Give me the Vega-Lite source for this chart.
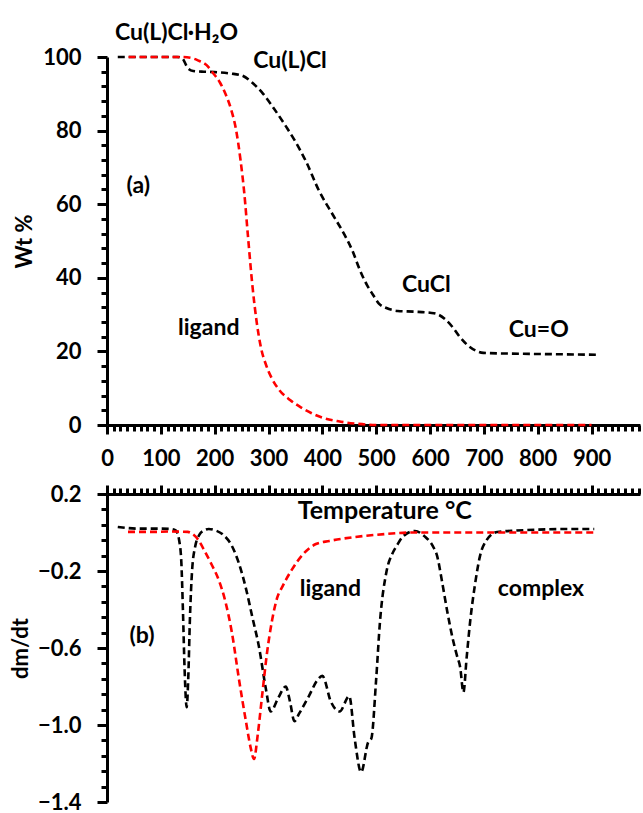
{
  "$schema": "https://vega.github.io/schema/vega-lite/v6.json",
  "background": "white",
  "padding": {"left": 9, "top": 22, "right": 0, "bottom": 0},
  "spacing": 14,
  "config": {
    "view": {"stroke": null},
    "font": "Lato",
    "axis": {
      "domainColor": "black", "domainWidth": 3, "tickColor": "black", "tickWidth": 3, "ticks": true, "tickOpacity": 1,
      "labelFont": "Lato", "labelFontSize": 22, "labelFontWeight": "bold", "labelColor": "black",
      "titleFont": "Lato", "titleFontSize": 22, "titleFontWeight": "bold", "titleColor": "black",
      "grid": false, "labelOverlap": false, "labelFlush": false
    }
  },
  "datasets": {
    "tga": [
      {"s": "complex", "T": 20, "v": 100}, {"s": "complex", "T": 60, "v": 100}, {"s": "complex", "T": 100, "v": 100},
      {"s": "complex", "T": 130, "v": 100}, {"s": "complex", "T": 140, "v": 99.6}, {"s": "complex", "T": 150, "v": 97},
      {"s": "complex", "T": 160, "v": 96.2}, {"s": "complex", "T": 180, "v": 96}, {"s": "complex", "T": 200, "v": 95.9},
      {"s": "complex", "T": 230, "v": 95.5}, {"s": "complex", "T": 250, "v": 95}, {"s": "complex", "T": 270, "v": 93},
      {"s": "complex", "T": 290, "v": 90}, {"s": "complex", "T": 310, "v": 86}, {"s": "complex", "T": 333, "v": 81},
      {"s": "complex", "T": 350, "v": 77}, {"s": "complex", "T": 370, "v": 71.5}, {"s": "complex", "T": 394, "v": 63.6},
      {"s": "complex", "T": 420, "v": 57}, {"s": "complex", "T": 440, "v": 52}, {"s": "complex", "T": 456, "v": 47.3},
      {"s": "complex", "T": 470, "v": 42}, {"s": "complex", "T": 483, "v": 38}, {"s": "complex", "T": 494, "v": 35.4},
      {"s": "complex", "T": 505, "v": 33}, {"s": "complex", "T": 519, "v": 31.8}, {"s": "complex", "T": 540, "v": 31},
      {"s": "complex", "T": 570, "v": 30.8}, {"s": "complex", "T": 600, "v": 30.5}, {"s": "complex", "T": 612, "v": 30.2},
      {"s": "complex", "T": 630, "v": 28.5}, {"s": "complex", "T": 643, "v": 26.4}, {"s": "complex", "T": 655, "v": 24},
      {"s": "complex", "T": 669, "v": 21.8}, {"s": "complex", "T": 685, "v": 20.2}, {"s": "complex", "T": 699, "v": 19.6},
      {"s": "complex", "T": 750, "v": 19.4}, {"s": "complex", "T": 800, "v": 19.3}, {"s": "complex", "T": 850, "v": 19.2},
      {"s": "complex", "T": 908, "v": 19.1},
      {"s": "ligand", "T": 40, "v": 100}, {"s": "ligand", "T": 80, "v": 100}, {"s": "ligand", "T": 120, "v": 100},
      {"s": "ligand", "T": 140, "v": 100}, {"s": "ligand", "T": 160, "v": 99.6}, {"s": "ligand", "T": 170, "v": 99},
      {"s": "ligand", "T": 185, "v": 97.8}, {"s": "ligand", "T": 195, "v": 96}, {"s": "ligand", "T": 210, "v": 93},
      {"s": "ligand", "T": 220, "v": 90}, {"s": "ligand", "T": 230, "v": 86}, {"s": "ligand", "T": 240, "v": 80},
      {"s": "ligand", "T": 248, "v": 72}, {"s": "ligand", "T": 255, "v": 63}, {"s": "ligand", "T": 262, "v": 51},
      {"s": "ligand", "T": 270, "v": 38}, {"s": "ligand", "T": 278, "v": 28}, {"s": "ligand", "T": 286, "v": 21},
      {"s": "ligand", "T": 295, "v": 16.5}, {"s": "ligand", "T": 305, "v": 13}, {"s": "ligand", "T": 320, "v": 9.5},
      {"s": "ligand", "T": 340, "v": 6.8}, {"s": "ligand", "T": 360, "v": 4.8}, {"s": "ligand", "T": 380, "v": 3.2},
      {"s": "ligand", "T": 400, "v": 2}, {"s": "ligand", "T": 430, "v": 1}, {"s": "ligand", "T": 460, "v": 0.4},
      {"s": "ligand", "T": 500, "v": 0}, {"s": "ligand", "T": 600, "v": 0}, {"s": "ligand", "T": 700, "v": 0},
      {"s": "ligand", "T": 800, "v": 0}, {"s": "ligand", "T": 900, "v": 0}
    ],
    "dtg": [
      {"s": "complex", "T": 20, "v": 0.029}, {"s": "complex", "T": 60, "v": 0.02}, {"s": "complex", "T": 100, "v": 0.02},
      {"s": "complex", "T": 120, "v": 0.018}, {"s": "complex", "T": 128, "v": 0.01}, {"s": "complex", "T": 134, "v": -0.04},
      {"s": "complex", "T": 138, "v": -0.15}, {"s": "complex", "T": 141, "v": -0.4}, {"s": "complex", "T": 144, "v": -0.7},
      {"s": "complex", "T": 148, "v": -0.907}, {"s": "complex", "T": 151, "v": -0.75}, {"s": "complex", "T": 154, "v": -0.45},
      {"s": "complex", "T": 158, "v": -0.2}, {"s": "complex", "T": 164, "v": -0.07}, {"s": "complex", "T": 172, "v": -0.01},
      {"s": "complex", "T": 180, "v": 0.01}, {"s": "complex", "T": 189, "v": 0.018}, {"s": "complex", "T": 200, "v": 0.012},
      {"s": "complex", "T": 215, "v": -0.01}, {"s": "complex", "T": 232, "v": -0.07}, {"s": "complex", "T": 245, "v": -0.16},
      {"s": "complex", "T": 258, "v": -0.29}, {"s": "complex", "T": 270, "v": -0.44}, {"s": "complex", "T": 282, "v": -0.59},
      {"s": "complex", "T": 295, "v": -0.81}, {"s": "complex", "T": 304, "v": -0.93}, {"s": "complex", "T": 318, "v": -0.86},
      {"s": "complex", "T": 332, "v": -0.8}, {"s": "complex", "T": 340, "v": -0.88}, {"s": "complex", "T": 348, "v": -0.98},
      {"s": "complex", "T": 357, "v": -0.94}, {"s": "complex", "T": 375, "v": -0.85}, {"s": "complex", "T": 390, "v": -0.77},
      {"s": "complex", "T": 400, "v": -0.745}, {"s": "complex", "T": 416, "v": -0.88}, {"s": "complex", "T": 432, "v": -0.93},
      {"s": "complex", "T": 450, "v": -0.85}, {"s": "complex", "T": 460, "v": -1.07}, {"s": "complex", "T": 472, "v": -1.245},
      {"s": "complex", "T": 485, "v": -1.09}, {"s": "complex", "T": 491, "v": -1.07}, {"s": "complex", "T": 500, "v": -0.76},
      {"s": "complex", "T": 507, "v": -0.465}, {"s": "complex", "T": 519, "v": -0.205}, {"s": "complex", "T": 530, "v": -0.11},
      {"s": "complex", "T": 538, "v": -0.07}, {"s": "complex", "T": 550, "v": -0.02}, {"s": "complex", "T": 572, "v": 0.008},
      {"s": "complex", "T": 590, "v": -0.02}, {"s": "complex", "T": 605, "v": -0.07}, {"s": "complex", "T": 613, "v": -0.12},
      {"s": "complex", "T": 622, "v": -0.25}, {"s": "complex", "T": 632, "v": -0.41}, {"s": "complex", "T": 642, "v": -0.55},
      {"s": "complex", "T": 650, "v": -0.64}, {"s": "complex", "T": 656, "v": -0.7}, {"s": "complex", "T": 662, "v": -0.83},
      {"s": "complex", "T": 668, "v": -0.65}, {"s": "complex", "T": 675, "v": -0.45}, {"s": "complex", "T": 683, "v": -0.28},
      {"s": "complex", "T": 693, "v": -0.12}, {"s": "complex", "T": 705, "v": -0.04}, {"s": "complex", "T": 725, "v": 0.003},
      {"s": "complex", "T": 760, "v": 0.01}, {"s": "complex", "T": 800, "v": 0.015}, {"s": "complex", "T": 850, "v": 0.018},
      {"s": "complex", "T": 905, "v": 0.018},
      {"s": "ligand", "T": 39, "v": 0.003}, {"s": "ligand", "T": 80, "v": 0.003}, {"s": "ligand", "T": 120, "v": 0.005},
      {"s": "ligand", "T": 150, "v": 0.003}, {"s": "ligand", "T": 160, "v": -0.01}, {"s": "ligand", "T": 170, "v": -0.04},
      {"s": "ligand", "T": 182, "v": -0.1}, {"s": "ligand", "T": 195, "v": -0.17}, {"s": "ligand", "T": 208, "v": -0.25},
      {"s": "ligand", "T": 220, "v": -0.36}, {"s": "ligand", "T": 232, "v": -0.52}, {"s": "ligand", "T": 245, "v": -0.76},
      {"s": "ligand", "T": 258, "v": -0.98}, {"s": "ligand", "T": 267, "v": -1.12}, {"s": "ligand", "T": 273, "v": -1.177},
      {"s": "ligand", "T": 280, "v": -1.05}, {"s": "ligand", "T": 288, "v": -0.85}, {"s": "ligand", "T": 297, "v": -0.63},
      {"s": "ligand", "T": 307, "v": -0.45}, {"s": "ligand", "T": 316, "v": -0.34}, {"s": "ligand", "T": 326, "v": -0.28},
      {"s": "ligand", "T": 344, "v": -0.19}, {"s": "ligand", "T": 365, "v": -0.11}, {"s": "ligand", "T": 388, "v": -0.06},
      {"s": "ligand", "T": 413, "v": -0.044}, {"s": "ligand", "T": 456, "v": -0.025}, {"s": "ligand", "T": 500, "v": -0.012},
      {"s": "ligand", "T": 572, "v": 0}, {"s": "ligand", "T": 700, "v": 0}, {"s": "ligand", "T": 800, "v": 0},
      {"s": "ligand", "T": 908, "v": 0}
    ],
    "topText": [
      {"label": "Cu(L)Cl·H₂O", "T": 129, "v": 106.5},
      {"label": "Cu(L)Cl", "T": 340, "v": 99},
      {"label": "(a)", "T": 58, "v": 65},
      {"label": "ligand", "T": 189, "v": 26.4},
      {"label": "CuCl", "T": 593, "v": 38},
      {"label": "Cu=O", "T": 802, "v": 25.7}
    ],
    "botText": [
      {"label": "Temperature °C", "T": 516, "v": 0.112},
      {"label": "ligand", "T": 415, "v": -0.294},
      {"label": "complex", "T": 806, "v": -0.294},
      {"label": "(b)", "T": 65, "v": -0.538}
    ]
  },
  "vconcat": [
    {
      "width": 533, "height": 368,
      "layer": [
        {
          "data": {"name": "tga"},
          "mark": {"type": "line", "interpolate": "monotone", "strokeDash": [7, 4], "strokeWidth": 2.6},
          "encoding": {
            "x": {"field": "T", "type": "quantitative", "scale": {"domain": [0, 990], "nice": false},
                  "axis": {"orient": "bottom", "values": [0, 100, 200, 300, 400, 500, 600, 700, 800, 900], "ticks": true, "tickSize": 9, "labelPadding": 14, "title": null}},
            "y": {"field": "v", "type": "quantitative", "scale": {"domain": [0, 100], "nice": false},
                  "axis": {"orient": "left", "values": [0, 20, 40, 60, 80, 100], "ticks": true, "tickSize": 10, "labelPadding": 16, "title": "Wt %", "titlePadding": 6}},
            "color": {"field": "s", "type": "nominal", "scale": {"domain": ["complex", "ligand"], "range": ["#000000", "#ff0000"]}, "legend": null}
          }
        },
        {
          "data": {"name": "topText"},
          "mark": {"type": "text", "font": "Lato", "fontWeight": "bold", "fontSize": 23, "color": "black", "baseline": "middle", "align": "center"},
          "encoding": {
            "x": {"field": "T", "type": "quantitative", "scale": {"domain": [0, 990], "nice": false},
                  "axis": {"orient": "bottom", "values": [12.5, 25, 37.5, 50, 62.5, 75, 87.5, 112.5, 125, 137.5, 150, 162.5, 175, 187.5, 212.5, 225, 237.5, 250, 262.5, 275, 287.5, 312.5, 325, 337.5, 350, 362.5, 375, 387.5, 412.5, 425, 437.5, 450, 462.5, 475, 487.5, 512.5, 525, 537.5, 550, 562.5, 575, 587.5, 612.5, 625, 637.5, 650, 662.5, 675, 687.5, 712.5, 725, 737.5, 750, 762.5, 775, 787.5, 812.5, 825, 837.5, 850, 862.5, 875, 887.5, 912.5, 925, 937.5, 950, 962.5, 975, 987.5], "ticks": true, "tickSize": 6, "labels": false, "domain": false, "title": null}},
            "y": {"field": "v", "type": "quantitative", "scale": {"domain": [0, 100], "nice": false},
                  "axis": {"orient": "left", "values": [4, 8, 12, 16, 24, 28, 32, 36, 44, 48, 52, 56, 64, 68, 72, 76, 84, 88, 92, 96], "ticks": true, "tickSize": 6, "labels": false, "domain": false, "title": null}},
            "text": {"field": "label"}
          }
        }
      ],
      "resolve": {"axis": {"x": "independent", "y": "independent"}}
    },
    {
      "width": 533, "height": 308,
      "layer": [
        {
          "data": {"name": "dtg"},
          "mark": {"type": "line", "interpolate": "monotone", "strokeDash": [7, 4], "strokeWidth": 2.6},
          "encoding": {
            "x": {"field": "T", "type": "quantitative", "scale": {"domain": [0, 990], "nice": false},
                  "axis": {"orient": "top", "values": [0, 100, 200, 300, 400, 500, 600, 700, 800, 900], "ticks": true, "tickSize": 9, "labels": false, "title": null}},
            "y": {"field": "v", "type": "quantitative", "scale": {"domain": [-1.4, 0.2], "nice": false},
                  "axis": {"orient": "left", "values": [-1.4, -1.0, -0.6, -0.2, 0.2], "format": ".1f", "ticks": true, "tickSize": 10, "labelPadding": 16, "title": "dm/dt", "titlePadding": 5}},
            "color": {"field": "s", "type": "nominal", "scale": {"domain": ["complex", "ligand"], "range": ["#000000", "#ff0000"]}, "legend": null}
          }
        },
        {
          "data": {"name": "botText"},
          "transform": [{"filter": "datum.label !== 'Temperature °C'"}],
          "mark": {"type": "text", "font": "Lato", "fontWeight": "bold", "fontSize": 23, "color": "black", "baseline": "middle", "align": "center"},
          "encoding": {
            "x": {"field": "T", "type": "quantitative", "scale": {"domain": [0, 990], "nice": false},
                  "axis": {"orient": "top", "values": [12.5, 25, 37.5, 50, 62.5, 75, 87.5, 112.5, 125, 137.5, 150, 162.5, 175, 187.5, 212.5, 225, 237.5, 250, 262.5, 275, 287.5, 312.5, 325, 337.5, 350, 362.5, 375, 387.5, 412.5, 425, 437.5, 450, 462.5, 475, 487.5, 512.5, 525, 537.5, 550, 562.5, 575, 587.5, 612.5, 625, 637.5, 650, 662.5, 675, 687.5, 712.5, 725, 737.5, 750, 762.5, 775, 787.5, 812.5, 825, 837.5, 850, 862.5, 875, 887.5, 912.5, 925, 937.5, 950, 962.5, 975, 987.5], "ticks": true, "tickSize": 6, "labels": false, "domain": false, "title": null}},
            "y": {"field": "v", "type": "quantitative", "scale": {"domain": [-1.4, 0.2], "nice": false},
                  "axis": {"orient": "left", "values": [-1.32, -1.24, -1.16, -1.08, -0.92, -0.84, -0.76, -0.68, -0.52, -0.44, -0.36, -0.28, -0.12, -0.04, 0.04, 0.12], "ticks": true, "tickSize": 6, "labels": false, "domain": false, "title": null}},
            "text": {"field": "label"}
          }
        },
        {
          "data": {"name": "botText"},
          "transform": [{"filter": "datum.label === 'Temperature °C'"}],
          "mark": {"type": "text", "font": "Lato", "fontWeight": "bold", "fontSize": 25, "color": "black", "baseline": "middle", "align": "center"},
          "encoding": {
            "x": {"field": "T", "type": "quantitative", "scale": {"domain": [0, 990], "nice": false}, "axis": null},
            "y": {"field": "v", "type": "quantitative", "scale": {"domain": [-1.4, 0.2], "nice": false}, "axis": null},
            "text": {"field": "label"}
          }
        }
      ],
      "resolve": {"axis": {"x": "independent", "y": "independent"}}
    }
  ]
}
